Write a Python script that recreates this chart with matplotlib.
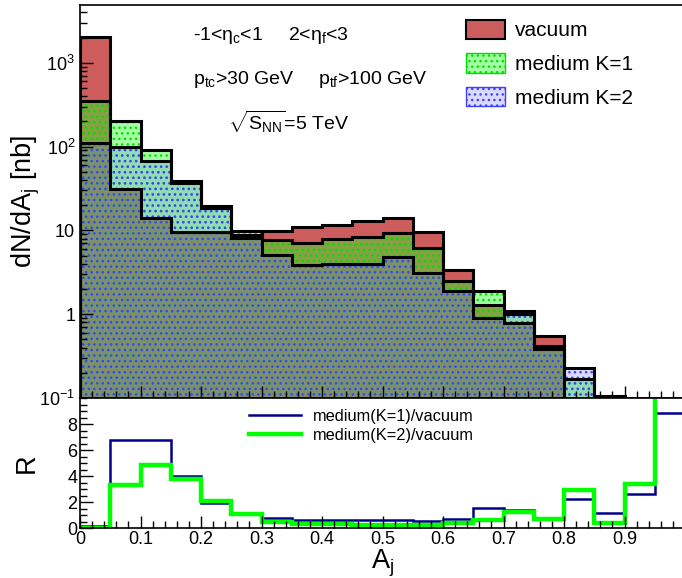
import numpy as np
import matplotlib
matplotlib.use("Agg")
import matplotlib.pyplot as plt
from matplotlib.patches import Patch
from matplotlib.lines import Line2D
from matplotlib.ticker import FixedLocator, MultipleLocator, NullFormatter

# A_j bins (width 0.05)
edges = np.linspace(0, 1, 21)

# dN/dA_j [nb]
vacuum = [2030, 31, 14, 9.7, 9.6, 8.2, 9.9, 10.9, 11.6, 13.0,
          14.0, 9.7, 3.4, 1.3, 0.79, 0.55, 0.08, 0.087, 0.02, 0.005]
medium_k1 = [355, 205, 92, 39, 18.6, 9.9, 7.6, 7.1, 7.8, 8.4,
             9.3, 6.1, 2.5, 1.9, 1.1, 0.42, 0.17, 0.105, 0.05, 0.04]
medium_k2 = [109, 100, 68, 37, 19.8, 8.9, 5.1, 3.9, 4.0, 4.0,
             4.8, 3.1, 1.9, 0.9, 1.0, 0.38, 0.23, 0.04, 0.07, 0.06]

# ratios, bottom panel
ratio_k1 = [0.18, 6.77, 6.77, 4.0, 1.94, 1.21, 0.77, 0.64, 0.64, 0.64,
            0.64, 0.57, 0.70, 1.52, 1.42, 0.77, 2.25, 1.21, 2.63, 8.86]
ratio_k2 = [0.0, 3.36, 4.83, 3.8, 2.06, 1.08, 0.51, 0.33, 0.33, 0.28,
            0.28, 0.28, 0.43, 0.64, 1.24, 0.70, 2.97, 0.43, 3.43, 12.0]

plt.rcParams["font.family"] = ["Liberation Sans", "DejaVu Sans"]
plt.rcParams["mathtext.fontset"] = "custom"
plt.rcParams["mathtext.rm"] = "Liberation Sans"
plt.rcParams["mathtext.it"] = "Liberation Sans"
plt.rcParams["mathtext.sf"] = "Liberation Sans"
plt.rcParams["hatch.linewidth"] = 1.0

W, H = 682, 578
fig = plt.figure(figsize=(W / 100, H / 100), dpi=100)
x0, x1 = 80, 685
ax = fig.add_axes([x0 / W, 1 - 398 / H, (x1 - x0) / W, 393 / H])
axr = fig.add_axes([x0 / W, 1 - 528.3 / H, (x1 - x0) / W, 130.3 / H], sharex=ax)

red = "#cd5c5c"
base = 1e-4
k1_face = (0.15, 1.0, 0.15, 0.42)
k2_face = (0.35, 0.35, 1.0, 0.22)
k1_dot = "#00e000"
k2_dot = "#4040ff"

# fills
ax.stairs(vacuum, edges, baseline=base, fill=True, facecolor=red, edgecolor="none", lw=0)
ax.stairs(medium_k1, edges, baseline=base, fill=True, facecolor=k1_face,
          edgecolor=k1_dot, hatch="...", lw=0)
ax.stairs(medium_k2, edges, baseline=base, fill=True, facecolor=k2_face,
          edgecolor=k2_dot, hatch="...", lw=0)
# outlines
for vals in (vacuum, medium_k1, medium_k2):
    ax.stairs(vals, edges, baseline=base, fill=False, color="black", lw=2.2)

ax.set_yscale("log")
ax.set_ylim(0.1, 4900)
ax.set_xlim(0, 1)
ax.yaxis.set_major_locator(FixedLocator([0.1, 1, 10, 100, 1000]))
ax.set_yticklabels([r"$10^{-1}$", "1", "10", r"$10^{2}$", r"$10^{3}$"])
ax.yaxis.set_minor_locator(FixedLocator(
    [m * 10.0 ** e for e in range(-1, 4) for m in range(2, 10)]))
ax.yaxis.set_minor_formatter(NullFormatter())
ax.xaxis.set_major_locator(MultipleLocator(0.1))
ax.xaxis.set_minor_locator(MultipleLocator(0.02))
ax.tick_params(axis="x", labelbottom=False)
ax.tick_params(which="both", direction="in", top=False, right=False, labelsize=13)
ax.tick_params(which="major", length=9, width=1)
ax.tick_params(which="minor", length=5, width=1)
ax.set_ylabel(r"dN/dA$_{j}$ [nb]", fontsize=19.5)
ax.yaxis.set_label_coords(-0.062, 0.5)
for s in ax.spines.values():
    s.set_linewidth(1.2)

leg_handles = [
    Patch(facecolor=red, edgecolor="black", lw=1.5, label="vacuum"),
    Patch(facecolor=k1_face, edgecolor=k1_dot, hatch="...", label="medium K=1"),
    Patch(facecolor=k2_face, edgecolor=k2_dot, hatch="...", label="medium K=2"),
]
ax.legend(handles=leg_handles, loc="upper left", bbox_to_anchor=(0.614, 1.0),
          frameon=False, fontsize=15, handlelength=1.85, handleheight=1.05,
          labelspacing=0.62, handletextpad=0.5, borderaxespad=0.3)

fs = 14
fig.text(193 / W, 1 - 36 / H, r"-1<$\eta_{c}$<1", fontsize=fs, va="center")
fig.text(288 / W, 1 - 36 / H, r"2<$\eta_{f}$<3", fontsize=fs, va="center")
fig.text(193 / W, 1 - 80 / H, r"p$_{tc}$>30 GeV", fontsize=fs, va="center")
fig.text(318 / W, 1 - 80 / H, r"p$_{tf}$>100 GeV", fontsize=fs, va="center")
fig.text(228 / W, 1 - 122 / H, r"$\sqrt{S_{NN}}$=5 TeV", fontsize=fs, va="center")

# ratio panel
axr.stairs(ratio_k1, edges, baseline=None, color="#00008b", lw=1.8)
axr.stairs(ratio_k2, edges, baseline=None, color="#00ff00", lw=3.2)
axr.set_ylim(0, 10)
axr.set_xlim(0, 1)
axr.yaxis.set_major_locator(FixedLocator([0, 2, 4, 6, 8]))
axr.yaxis.set_minor_locator(MultipleLocator(0.5))
axr.set_xticks(np.arange(0, 1.0, 0.1))
axr.set_xticklabels(["0", "0.1", "0.2", "0.3", "0.4", "0.5", "0.6", "0.7", "0.8", "0.9"])
axr.xaxis.set_minor_locator(MultipleLocator(0.02))
axr.tick_params(which="both", direction="in", top=False, right=False, labelsize=13)
axr.tick_params(which="major", length=9, width=1, pad=2)
axr.tick_params(which="minor", length=5, width=1)
axr.set_ylabel("R", fontsize=19.5)
axr.yaxis.set_label_coords(-0.066, 0.5)
axr.set_xlabel(r"A$_{j}$", fontsize=19.5, labelpad=0)
axr.xaxis.set_label_coords(0.5, -0.15)
for s in axr.spines.values():
    s.set_linewidth(1.2)

rl = [Line2D([], [], color="#00008b", lw=1.8), Line2D([], [], color="#00ff00", lw=3.2)]
axr.legend(rl, ["medium(K=1)/vacuum", "medium(K=2)/vacuum"], loc="upper left",
           bbox_to_anchor=(0.255, 1.03), frameon=False, fontsize=11.8,
           handlelength=3.2, labelspacing=0.25, handletextpad=0.7)

fig.savefig("out.png", dpi=100)
